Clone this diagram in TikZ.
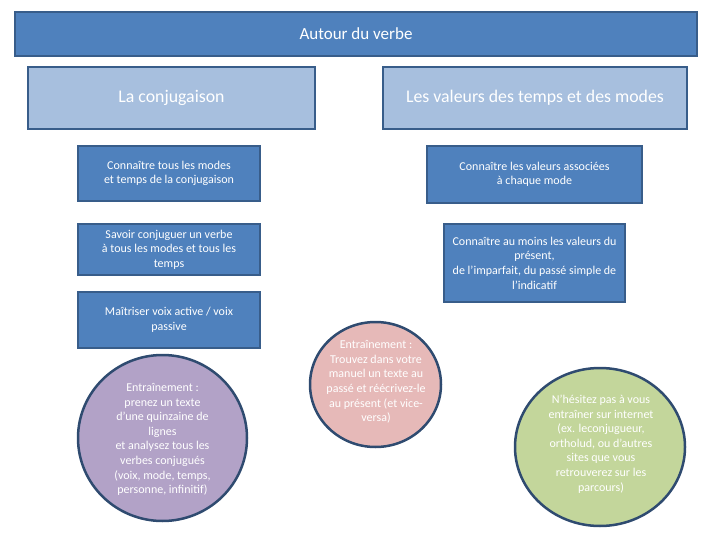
\documentclass[tikz,border=0pt]{standalone}
\usepackage{fontspec}
\setmainfont{Carlito}
\usetikzlibrary{shapes.geometric}
\definecolor{dkblue}{HTML}{4F81BD}
\definecolor{ltblue}{HTML}{A7BFDE}
\definecolor{edge}{HTML}{385D8A}
\definecolor{edgedk}{HTML}{2F4B70}
\definecolor{purp}{HTML}{B2A2C7}
\definecolor{pink}{HTML}{E6B9B8}
\definecolor{grn}{HTML}{C3D69B}
\tikzset{
  titlebox/.style={draw=edge, line width=2pt, fill=dkblue, text=white, inner sep=0pt, font=\fontsize{17}{20}\selectfont},
  headbox/.style={draw=edge, line width=2.5pt, fill=ltblue, text=white, inner sep=0pt, font=\fontsize{17.8}{21}\selectfont},
  smallbox/.style={draw=edge, line width=1.6pt, fill=dkblue, text=white, inner sep=0pt, align=center, font=\fontsize{12}{14.6}\selectfont},
  bubble/.style={draw=edgedk, line width=2.5pt, ellipse, inner sep=0pt},
  bubbletext/.style={text=white, align=center, inner sep=0pt, font=\fontsize{12}{14.6}\selectfont}
}
\begin{document}
\begin{tikzpicture}[x=1pt,y=-1pt]
\useasboundingbox (0,0) rectangle (720,540);
\node[titlebox, minimum width=682pt, minimum height=44pt] (title) at (356,34) {Autour du verbe};
\node[headbox, minimum width=287pt, minimum height=62pt] (conj) at (171.5,98) {La conjugaison};
\node[headbox, minimum width=304pt, minimum height=62pt] (val) at (535,98) {Les valeurs des temps et des modes};
\node[smallbox, minimum width=182pt, minimum height=55pt] (b1) at (169,173.5) {Connaître tous les modes\\et temps de la conjugaison};
\node[smallbox, minimum width=182pt, minimum height=51pt] (b2) at (169,249.5) {Savoir conjuguer un verbe\\à tous les modes et tous les\\temps};
\node[smallbox, minimum width=182pt, minimum height=56pt] (b3) at (169,320) {Maîtriser voix active / voix\\passive};
\node[smallbox, minimum width=215pt, minimum height=57pt] (v1) at (534.5,174.5) {Connaître les valeurs associées\\à chaque mode};
\node[smallbox, minimum width=181pt, minimum height=78pt] (v2) at (534.5,263) {Connaître au moins les valeurs du\\présent,\\de l’imparfait, du passé simple de\\l’indicatif};
\node[bubble, fill=purp, minimum width=169pt, minimum height=166pt] (c1) at (162.5,438) {};
\node[bubbletext] (t1) at (162.5,439.5) {Entraînement :\\prenez un texte\\d’une quinzaine de\\lignes\\et analysez tous les\\verbes conjugués\\(voix, mode, temps,\\personne, infinitif)};
\node[bubble, fill=pink, minimum width=131pt, minimum height=125pt] (c2) at (375.5,384.5) {};
\node[bubbletext] (t2) at (376,382) {Entraînement :\\Trouvez dans votre\\manuel un texte au\\passé et réécrivez-le\\au présent (et vice-\\versa)};
\node[bubble, fill=grn, minimum width=170pt, minimum height=158pt] (c3) at (600,447) {};
\node[bubbletext] (t3) at (601,444) {N’hésitez pas à vous\\entraîner sur internet\\(ex. leconjugueur,\\ortholud, ou d’autres\\sites que vous\\retrouverez sur les\\parcours)};
\end{tikzpicture}
\end{document}
